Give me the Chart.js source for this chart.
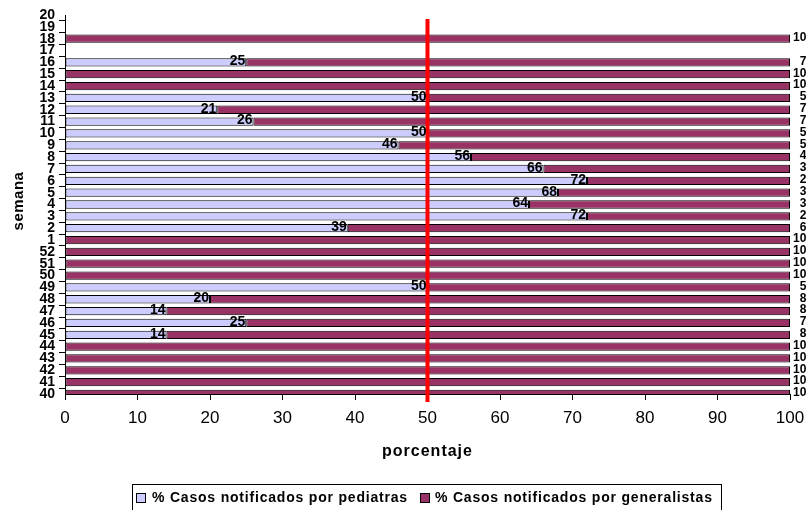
<!DOCTYPE html>
<html>
<head>
<meta charset="utf-8">
<script src="https://cdn.jsdelivr.net/npm/chart.js@4/dist/chart.umd.min.js"></script>
<style>
html,body{margin:0;padding:0;background:#fff;}
#wrap{width:806px;height:510px;position:relative;}
</style>
</head>
<body>
<div id="wrap"><canvas id="c" width="806" height="510"></canvas></div>
<script>
// Weeks, listed from bottom (40) to top (20)
const weeks = ['40','41','42','43','44','45','46','47','48','49','50','51','52',
               '1','2','3','4','5','6','7','8','9','10','11','12','13','14','15','16','17','18','19','20'];
const pediatras = [0,0,0,0,0,14,25,14,20,50,0,0,0,
                   0,39,72,64,68,72,66,56,46,50,26,21,50,0,0,25,null,0,null,null];
const generalistas = [100,100,100,100,100,86,75,86,80,50,100,100,100,
                      100,61,28,36,32,28,34,44,54,50,74,79,50,100,100,75,null,100,null,null];
const xTicks = [0,10,20,30,40,50,60,70,80,90,100];
const referenceLine = 50;
const seriesNames = ['% Casos notificados por pediatras', '% Casos notificados por generalistas'];
const axisTitles = { x: 'porcentaje', y: 'semana' };

const FONT = '"Liberation Sans", Arial, sans-serif';
const colPed = '#CCCCFF';
const colGen = '#993366';

const overlay = {
  id: 'overlay',
  afterDatasetsDraw(chart) {
    const ctx = chart.ctx;
    const xs = chart.scales.x;
    const area = chart.chartArea;
    const xr = xs.getPixelForValue(referenceLine);
    ctx.save();
    ctx.strokeStyle = '#FF0000';
    ctx.lineWidth = 4;
    ctx.beginPath();
    ctx.moveTo(xr, area.top + 4);
    ctx.lineTo(xr, area.bottom + 8);
    ctx.stroke();
    ctx.restore();
  },
  afterDraw(chart) {
    const ctx = chart.ctx;
    const xs = chart.scales.x, ys = chart.scales.y;
    const area = chart.chartArea;
    ctx.save();
    ctx.fillStyle = '#000';
    ctx.font = 'bold 14px ' + FONT;
    ctx.textBaseline = 'middle';
    ctx.textAlign = 'right';
    pediatras.forEach((v, i) => {
      if (v === null || v === 0) return;
      const y = ys.getPixelForValue(i);
      const x = xs.getPixelForValue(v);
      ctx.fillText(String(v), x - 1, y - 1);
    });
    ctx.font = 'bold 12px ' + FONT;
    ctx.textAlign = 'right';
    generalistas.forEach((v, i) => {
      if (v === null) return;
      const y = ys.getPixelForValue(i);
      ctx.fillText(String(v), area.right + 23, y - 1);
    });
    // axis titles
    ctx.textAlign = 'center';
    ctx.font = 'bold 16px ' + FONT;
    ctx.letterSpacing = '1px';
    ctx.fillText(axisTitles.x, (area.left + area.right) / 2, 452);
    ctx.save();
    ctx.translate(19, 201);
    ctx.rotate(-Math.PI / 2);
    ctx.font = 'bold 15px ' + FONT;
    ctx.letterSpacing = '0.5px';
    ctx.fillText(axisTitles.y, 0, 0);
    ctx.restore();
    // legend
    ctx.strokeStyle = '#000';
    ctx.lineWidth = 1;
    ctx.strokeRect(132.5, 484.5, 589, 30);
    ctx.font = 'bold 14px ' + FONT;
    ctx.letterSpacing = '0.8px';
    ctx.textAlign = 'left';
    ctx.fillStyle = colPed;
    ctx.fillRect(136.5, 493.5, 9, 9);
    ctx.strokeRect(136.5, 493.5, 9, 9);
    ctx.fillStyle = '#000';
    ctx.fillText(seriesNames[0], 152, 498);
    ctx.fillStyle = colGen;
    ctx.fillRect(420.5, 493.5, 9, 9);
    ctx.strokeRect(420.5, 493.5, 9, 9);
    ctx.fillStyle = '#000';
    ctx.fillText(seriesNames[1], 435, 498);
    ctx.restore();
  }
};

new Chart(document.getElementById('c'), {
  type: 'bar',
  data: {
    labels: weeks,
    datasets: [
      { label: seriesNames[0], data: pediatras, backgroundColor: colPed, borderColor: '#000', borderWidth: 1, borderSkipped: false },
      { label: seriesNames[1], data: generalistas, backgroundColor: colGen, borderColor: '#000', borderWidth: 1, borderSkipped: false }
    ]
  },
  options: {
    indexAxis: 'y',
    responsive: false,
    animation: false,
    maintainAspectRatio: false,
    layout: { padding: { left: 0, right: 16, top: 15, bottom: 0 } },
    datasets: { bar: { categoryPercentage: 1, barPercentage: 0.7 } },
    plugins: { legend: { display: false }, tooltip: { enabled: false } },
    scales: {
      x: {
        stacked: true, min: 0, max: 100,
        afterFit(s) { s.height = 116; s.paddingLeft = 0; s.paddingRight = 0; },
        afterBuildTicks(s) { s.ticks = xTicks.map(v => ({ value: v })); },
        ticks: { color: '#000', font: { family: FONT, size: 17 }, padding: 8, maxRotation: 0 },
        grid: { drawOnChartArea: false, drawTicks: true, tickLength: 6, color: '#000' },
        border: { display: true, color: '#000', width: 1 }
      },
      y: {
        stacked: true, reverse: true, offset: false,
        afterFit(s) { s.width = 65; s.paddingTop = 0; s.paddingBottom = 0; },
        ticks: { color: '#000', font: { family: FONT, size: 14, weight: 'bold' }, autoSkip: false, padding: 4 },
        grid: { drawOnChartArea: false, drawTicks: true, tickLength: 6, color: '#000' },
        border: { display: true, color: '#000', width: 1 }
      }
    }
  },
  plugins: [overlay]
});
</script>
</body>
</html>
